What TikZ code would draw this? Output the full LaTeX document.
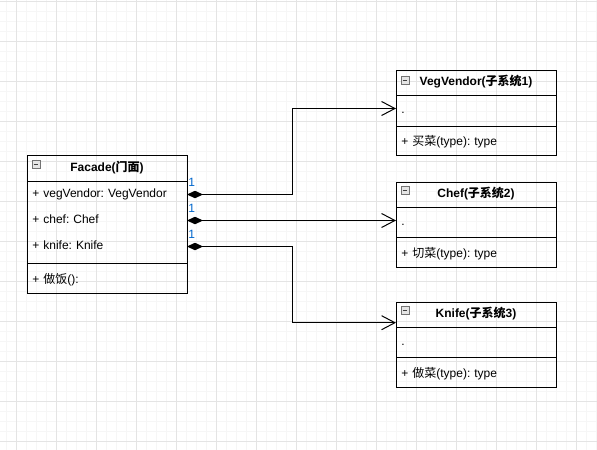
\documentclass[tikz,border=0pt]{standalone}
\usepackage{fontspec}
\setmainfont{Liberation Sans}
\newfontfamily\cjk{Noto Sans CJK SC}
\usetikzlibrary{arrows.meta}
\usetikzlibrary{calc}
\usetikzlibrary{positioning}

\definecolor{gridmajor}{RGB}{228,228,228}
\definecolor{gridminor}{RGB}{246,246,246}
\definecolor{multblue}{RGB}{0,102,204}
\frenchspacing

\begin{document}
\begin{tikzpicture}[x=0.75pt,y=0.75pt,yscale=-1,xscale=1,
    font=\fontsize{9}{11}\selectfont,
    classbox/.style={draw, line width=0.75pt, minimum width=120pt, inner sep=0pt, outer sep=0pt},
    classtitle/.style={font=\fontsize{9}{11}\selectfont\bfseries, inner sep=0pt, text height=6.6pt, text depth=1.9pt},
    classrow/.style={minimum width=120pt, text width=112pt, align=left, inner xsep=4pt, inner ysep=0pt, outer sep=0pt, text height=6.6pt, text depth=1.9pt},
    foldicon/.style={draw=black!55, fill=black!10, line width=0.5pt, minimum size=6pt, inner sep=0pt, outer sep=0pt,
        path picture={\draw[black!75, line width=0.6pt] ([xshift=1.3pt]path picture bounding box.west) -- ([xshift=-1.3pt]path picture bounding box.east);}},
    composition/.style={line width=0.75pt, arrows={Diamond[length=12pt,width=5.6pt]-Straight Barb[length=10pt,width=10.5pt]}},
    mult/.style={text=multblue, inner sep=0pt, anchor=south west}
]
    \fill[white] (0,0) rectangle (597,450);
    \useasboundingbox (0,0) rectangle (597,450);
    % Grid
    \foreach \gx in {6,16,...,596} \draw[gridminor, line width=0.75pt] (\gx,0) -- (\gx,450);
    \foreach \gy in {1,11,...,441} \draw[gridminor, line width=0.75pt] (0,\gy) -- (597,\gy);
    \foreach \gx in {16,56,...,576} \draw[gridmajor, line width=0.75pt] (\gx,0) -- (\gx,450);
    \foreach \gy in {1,41,...,441} \draw[gridmajor, line width=0.75pt] (0,\gy) -- (597,\gy);

    % Class: Facade
    \node[classbox, minimum height=103.5pt] (facade) at (107,224) {};
    \draw[line width=0.75pt] (27,181) -- (187,181);
    \draw[line width=0.75pt] (27,263) -- (187,263);
    \node[foldicon] (facade-icon) at (36,164) {};
    \node[classtitle] (facade-title) at (107,168.5) {Facade({\cjk 门面})};
    \node[classrow] (facade-veg) at (107,194.5) {+ vegVendor: VegVendor};
    \node[classrow] (facade-chef) at (107,220.5) {+ chef: Chef};
    \node[classrow] (facade-knife) at (107,246.5) {+ knife: Knife};
    \node[classrow] (facade-op) at (107,280) {+ {\cjk 做饭}():};

    % Class: VegVendor
    \node[classbox, minimum height=63.75pt] (vegvendor) at (476,112.5) {};
    \draw[line width=0.75pt] (396,95) -- (556,95);
    \draw[line width=0.75pt] (396,126) -- (556,126);
    \node[foldicon] (vegvendor-icon) at (405,80) {};
    \node[classtitle] (vegvendor-title) at (476,82.5) {VegVendor({\cjk 子系统}1)};
    \node[classrow] (vegvendor-attr) at (476,110) {.};
    \node[classrow] (vegvendor-op) at (476,142) {+ {\cjk 买菜}(type): type};

    % Class: Chef
    \node[classbox, minimum height=63.75pt] (chef) at (476,224.5) {};
    \draw[line width=0.75pt] (396,207) -- (556,207);
    \draw[line width=0.75pt] (396,237) -- (556,237);
    \node[foldicon] (chef-icon) at (405,190.5) {};
    \node[classtitle] (chef-title) at (476,194.5) {Chef({\cjk 子系统}2)};
    \node[classrow] (chef-attr) at (476,222) {.};
    \node[classrow] (chef-op) at (476,254) {+ {\cjk 切菜}(type): type};

    % Class: Knife
    \node[classbox, minimum height=63.75pt] (knife) at (476,344.5) {};
    \draw[line width=0.75pt] (396,327) -- (556,327);
    \draw[line width=0.75pt] (396,357) -- (556,357);
    \node[foldicon] (knife-icon) at (405,310.5) {};
    \node[classtitle] (knife-title) at (476,314.5) {Knife({\cjk 子系统}3)};
    \node[classrow] (knife-attr) at (476,342) {.};
    \node[classrow] (knife-op) at (476,374) {+ {\cjk 做菜}(type): type};

    % Connectors
    \coordinate (veg-bend) at (292,108.5);
    \coordinate (knife-bend) at (292,322.7);
    \draw[composition] (facade-veg.east) -| (veg-bend) -- (vegvendor.west |- veg-bend);
    \draw[composition] (facade-chef.east) -- (chef.west |- facade-chef.east);
    \draw[composition] (facade-knife.east) -| (knife-bend) -- (knife.west |- knife-bend);

    % Multiplicities
    \node[mult] (veg-mult) at ($(facade-veg.east)+(1,-8)$) {1};
    \node[mult] (chef-mult) at ($(facade-chef.east)+(1,-8)$) {1};
    \node[mult] (knife-mult) at ($(facade-knife.east)+(1,-8)$) {1};
\end{tikzpicture}
\end{document}
